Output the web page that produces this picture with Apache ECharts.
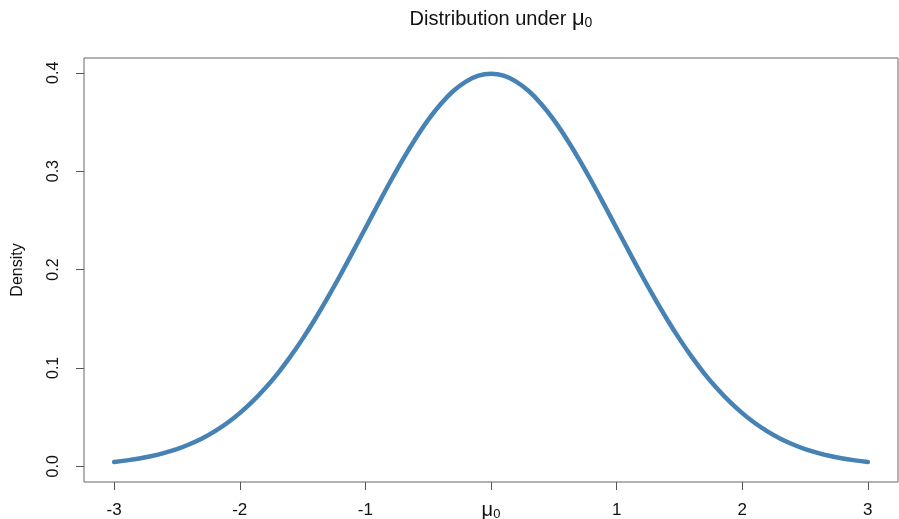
<!DOCTYPE html>
<html>
<head>
<meta charset="utf-8">
<script src="https://cdn.jsdelivr.net/npm/echarts@6/dist/echarts.min.js"></script>
<style>
html,body{margin:0;padding:0;background:#fff;}
#c{width:899px;height:519px;}
</style>
</head>
<body>
<div id="c"></div>
<script>
// Values
var xValues = [-3.0,-2.9,-2.8,-2.7,-2.6,-2.5,-2.4,-2.3,-2.2,-2.1,-2.0,-1.9,-1.8,-1.7,-1.6,-1.5,-1.4,-1.3,-1.2,-1.1,-1.0,-0.9,-0.8,-0.7,-0.6,-0.5,-0.4,-0.3,-0.2,-0.1,0.0,0.1,0.2,0.3,0.4,0.5,0.6,0.7,0.8,0.9,1.0,1.1,1.2,1.3,1.4,1.5,1.6,1.7,1.8,1.9,2.0,2.1,2.2,2.3,2.4,2.5,2.6,2.7,2.8,2.9,3.0];
var densityValues = [0.0044,0.0060,0.0079,0.0104,0.0136,0.0175,0.0224,0.0283,0.0355,0.0440,0.0540,0.0656,0.0790,0.0940,0.1109,0.1295,0.1497,0.1714,0.1942,0.2179,0.2420,0.2661,0.2897,0.3123,0.3332,0.3521,0.3683,0.3814,0.3910,0.3970,0.3989,0.3970,0.3910,0.3814,0.3683,0.3521,0.3332,0.3123,0.2897,0.2661,0.2420,0.2179,0.1942,0.1714,0.1497,0.1295,0.1109,0.0940,0.0790,0.0656,0.0540,0.0440,0.0355,0.0283,0.0224,0.0175,0.0136,0.0104,0.0079,0.0060,0.0044];
var xTicks = [-3,-2,-1,0,1,2,3];
var xTickLabels = ['-3','-2','-1','{mu|μ}{sub|0}','1','2','3'];
var yTicks = [0,0.1,0.2,0.3,0.4];
var yTickLabels = ['0.0','0.1','0.2','0.3','0.4'];
var titleText = 'Distribution under {mu|μ}{sub|0}';
var yName = 'Density';

var font = "'Liberation Sans', Arial, Helvetica, sans-serif";
var chart = echarts.init(document.getElementById('c'), null, {renderer:'canvas'});
var data = xValues.map(function(x,i){return [x, densityValues[i]];});
chart.setOption({
  animation:false,
  backgroundColor:'#fff',
  title:{
    text:titleText,
    left:496, top:3, textAlign:'center',
    textStyle:{
      fontFamily:font, fontSize:20, fontWeight:'normal', color:'#111',
      rich:{
        mu:{fontFamily:font, fontSize:22, color:'#111'},
        sub:{fontFamily:font, fontSize:14, color:'#111', padding:[8,0,0,0]}
      }
    }
  },
  grid:{left:84, right:1, top:58, bottom:37, outerBoundsMode:'none', containLabel:false, show:true, borderColor:'#666', borderWidth:1, backgroundColor:'transparent'},
  xAxis:{
    type:'value', min:-3.24, max:3.24,
    axisLine:{show:false, onZero:false},
    splitLine:{show:false},
    axisTick:{show:true, length:8, customValues:xTicks, lineStyle:{color:'#555', width:1}},
    axisLabel:{
      customValues:xTicks, margin:20, fontFamily:font, fontSize:17, color:'#111',
      formatter:function(v){ var i = xTicks.indexOf(Math.round(v)); return xTickLabels[i]; },
      rich:{
        mu:{fontFamily:font, fontSize:20, lineHeight:17, color:'#111'},
        sub:{fontFamily:font, fontSize:13, lineHeight:11, color:'#111', padding:[8,0,0,0]}
      }
    }
  },
  yAxis:{
    type:'value', min:-0.016, max:0.415,
    name:yName, nameLocation:'middle', nameGap:58, nameRotate:90,
    nameTextStyle:{fontFamily:font, fontSize:16, color:'#111'},
    axisLine:{show:false, onZero:false},
    splitLine:{show:false},
    axisTick:{show:true, length:8, customValues:yTicks, lineStyle:{color:'#555', width:1}},
    axisLabel:{
      customValues:yTicks, rotate:90, margin:22, fontFamily:font, fontSize:16, color:'#111',
      formatter:function(v){ var i = yTicks.indexOf(Math.round(v*10)/10); return yTickLabels[i]; }
    }
  },
  series:[{
    type:'line', data:data, showSymbol:false, smooth:0.4,
    lineStyle:{color:'#4682B4', width:4.5, cap:'round', join:'round'}
  }]
});
</script>
</body>
</html>
